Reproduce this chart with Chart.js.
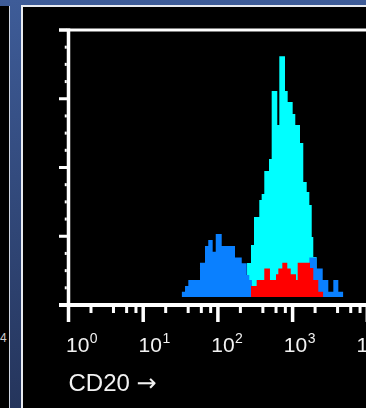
<!DOCTYPE html>
<html>
<head>
<meta charset="utf-8">
<script src="https://cdn.jsdelivr.net/npm/chart.js@4.4.1/dist/chart.umd.min.js"></script>
<style>
    html, body { margin: 0; padding: 0; width: 366px; height: 408px; overflow: hidden; }
    body { position: relative; background: linear-gradient(#3e5c98, #25355c); font-family: "Liberation Sans", Arial, sans-serif; }
    .side { position: absolute; left: 0; top: 6px; width: 9px; height: 402px; background: #000; border-right: 1px solid #d0d6e2; }
    .side span { position: absolute; left: 0px; top: 325px; font-size: 12px; color: #cfcfcf; }
    .panel { position: absolute; left: 21px; top: 5px; width: 420px; height: 420px; background: #000; border-left: 2px solid #e8ebf0; border-top: 2px solid #e8ebf0; }
    .chart-box { position: absolute; left: 23px; top: 7px; width: 380px; height: 401px; }
</style>
</head>
<body>
<div class="side"><span>4</span></div>
<div class="panel"></div>
<div class="chart-box"><canvas id="hist" width="380" height="401"></canvas></div>
<script>
// bin edges in decades (log10 of CD20 intensity), heights in % of the y range
const cyanEdges = [2.35, 2.39, 2.443, 2.483, 2.554, 2.586, 2.621, 2.684, 2.720, 2.795, 2.822, 2.898, 2.934, 3.001, 3.036, 3.099, 3.143, 3.189, 3.224, 3.256, 3.277, 3.323]
const cyanCounts = [8, 15.3, 21.8, 32.0, 38.2, 40.4, 48.7, 53.1, 77.8, 65.5, 90.5, 77.8, 73.8, 69.5, 65.5, 58.9, 44.7, 41.1, 36.4, 24.7, 17.5]

const blueEdges = [1.515, 1.560, 1.604, 1.760, 1.827, 1.871, 1.930, 1.971, 2.051, 2.229, 2.319, 2.386, 2.420, 2.456, 3.224, 3.323, 3.403, 3.478, 3.545, 3.612, 3.679]
const blueCounts = [4.8, 6.9, 9.1, 15.4, 21.5, 23.6, 19.4, 25.8, 21.5, 17.3, 15.2, 10.9, 9.1, 5.0, 17.3, 13.3, 9.1, 4.8, 9.1, 4.8]

const redEdges = [2.443, 2.519, 2.621, 2.697, 2.778, 2.809, 2.862, 2.929, 2.975, 3.046, 3.068, 3.233, 3.277, 3.344, 3.411]
const redCounts = [6.9, 9.1, 13.3, 9.1, 11.2, 13.3, 15.4, 13.3, 11.2, 9.1, 15.4, 13.5, 9.1, 4.8]

const decades = [0, 1, 2, 3, 4]
const xTitle = 'CD20'
const baseline = 2.9

function histPoints(edges, counts) {
    // one point per left edge, plus the closing right edge
    const pts = counts.map((c, i) => ({x: Math.pow(10, edges[i]), y: c}))
    pts.push({x: Math.pow(10, edges[edges.length - 1]), y: counts[counts.length - 1]})
    return pts
}

function histDataset(label, edges, counts, color, order) {
    return {
        label: label,
        data: histPoints(edges, counts),
        stepped: 'before',
        backgroundColor: color,
        borderColor: 'rgba(0,0,0,0)',
        borderWidth: 0,
        pointRadius: 0,
        fill: {value: baseline},
        order: order
    }
}

const flowAxes = {
    id: 'flowAxes',
    afterDraw(chart) {
        const {ctx, chartArea: a, scales: {x, y}} = chart
        ctx.save()
        ctx.fillStyle = '#ffffff'

        // frame lines
        ctx.fillRect(a.left - 9.5, a.top - 1.5, chart.width, 3)
        ctx.fillRect(a.left - 9.5, a.bottom - 2, chart.width, 4)
        ctx.fillRect(a.left - 1.75, a.top - 1.5, 3.5, a.bottom - a.top + 3.5)

        // y ticks
        for (let v = 0; v <= 100; v += 6.25) {
            const py = y.getPixelForValue(v)
            if (v % 25 === 0) {
                ctx.fillRect(a.left - 9.5, py - 1.5, 8, 3)
            } else {
                ctx.fillRect(a.left - 3.75, py - 1.5, 2, 3)
            }
        }

        // x ticks
        decades.forEach((k) => {
            const px = x.getPixelForValue(Math.pow(10, k))
            ctx.fillRect(px - 1.75, a.bottom, 3.5, 17)
            if (k < 4) {
                [2, 4, 6, 8].forEach((m) => {
                    const mx = x.getPixelForValue(m * Math.pow(10, k))
                    ctx.fillRect(mx - 1.5, a.bottom, 3, 8)
                })
            }
        })

        // tick labels 10^k
        ctx.fillStyle = '#f2f2f2'
        ctx.textBaseline = 'alphabetic'
        ctx.textAlign = 'left'
        decades.forEach((k) => {
            const px = x.getPixelForValue(Math.pow(10, k))
            const tx = px - 2.5 - 2.1 * k
            ctx.font = '21px "Liberation Sans", Arial, sans-serif'
            ctx.fillText('10', tx, a.bottom + 47)
            const w = ctx.measureText('10').width
            ctx.font = '14px "Liberation Sans", Arial, sans-serif'
            ctx.fillText(String(k), tx + w + 0.5, a.bottom + 38)
        })

        // axis title with arrow
        ctx.font = '24px "Liberation Sans", Arial, sans-serif'
        ctx.fillText(xTitle, a.left, a.bottom + 86)
        const tw = ctx.measureText(xTitle + ' ').width
        ctx.font = '24px "DejaVu Sans", sans-serif'
        ctx.fillText('\u2192', a.left + tw, a.bottom + 86)
        ctx.restore()
    }
}

new Chart(document.getElementById('hist'), {
    type: 'line',
    data: {
        datasets: [
            histDataset('CD20 gated', redEdges, redCounts, '#ff0000', 1),
            histDataset('CD20 low', blueEdges, blueCounts, '#0a80ff', 2),
            histDataset('CD20 high', cyanEdges, cyanCounts, '#00ffff', 3)
        ]
    },
    options: {
        responsive: false,
        animation: false,
        layout: {
            padding: {left: 45.5, top: 23, right: 35.7, bottom: 103}
        },
        scales: {
            x: {type: 'logarithmic', min: 1, max: 10000, display: false},
            y: {type: 'linear', min: 0, max: 100, display: false}
        },
        plugins: {
            legend: {display: false},
            tooltip: {enabled: false}
        }
    },
    plugins: [flowAxes]
})
</script>
</body>
</html>
